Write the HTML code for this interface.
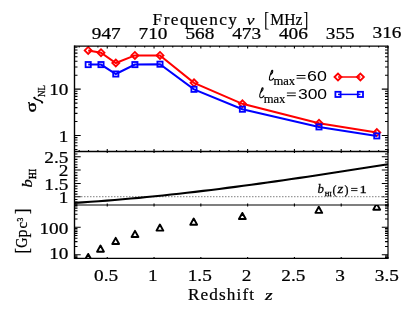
<!DOCTYPE html>
<html><head><meta charset="utf-8"><style>
html,body{margin:0;padding:0;background:#fff;}
svg{display:block;will-change:transform;}
.s{font-family:"Liberation Serif",serif;}
.a{font-family:"Liberation Sans",sans-serif;}
</style></head><body>
<svg xmlns="http://www.w3.org/2000/svg" width="415" height="317" viewBox="0 0 415 317">
<rect width="415" height="317" fill="#fff"/>
<path d="M107.25,46.0v2.6M107.25,151.5v-2.6M107.25,151.5v1.5M107.25,205.0v-1.5M107.25,205.0v1.5M107.25,258.4v-1.5M154.04,46.0v2.6M154.04,151.5v-2.6M154.04,151.5v1.5M154.04,205.0v-1.5M154.04,205.0v1.5M154.04,258.4v-1.5M200.84,46.0v2.6M200.84,151.5v-2.6M200.84,151.5v1.5M200.84,205.0v-1.5M200.84,205.0v1.5M200.84,258.4v-1.5M247.63,46.0v2.6M247.63,151.5v-2.6M247.63,151.5v1.5M247.63,205.0v-1.5M247.63,205.0v1.5M247.63,258.4v-1.5M294.42,46.0v2.6M294.42,151.5v-2.6M294.42,151.5v1.5M294.42,205.0v-1.5M294.42,205.0v1.5M294.42,258.4v-1.5M341.21,46.0v2.6M341.21,151.5v-2.6M341.21,151.5v1.5M341.21,205.0v-1.5M341.21,205.0v1.5M341.21,258.4v-1.5M388,46.0v2.6M388,151.5v-2.6M388,151.5v1.5M388,205.0v-1.5M388,205.0v1.5M388,258.4v-1.5M79.18,46.0v1.4M79.18,151.5v-1.4M88.54,46.0v1.4M88.54,151.5v-1.4M97.9,46.0v1.4M97.9,151.5v-1.4M116.61,46.0v1.4M116.61,151.5v-1.4M125.97,46.0v1.4M125.97,151.5v-1.4M135.33,46.0v1.4M135.33,151.5v-1.4M144.69,46.0v1.4M144.69,151.5v-1.4M163.4,46.0v1.4M163.4,151.5v-1.4M172.76,46.0v1.4M172.76,151.5v-1.4M182.12,46.0v1.4M182.12,151.5v-1.4M191.48,46.0v1.4M191.48,151.5v-1.4M210.19,46.0v1.4M210.19,151.5v-1.4M219.55,46.0v1.4M219.55,151.5v-1.4M228.91,46.0v1.4M228.91,151.5v-1.4M238.27,46.0v1.4M238.27,151.5v-1.4M256.99,46.0v1.4M256.99,151.5v-1.4M266.34,46.0v1.4M266.34,151.5v-1.4M275.7,46.0v1.4M275.7,151.5v-1.4M285.06,46.0v1.4M285.06,151.5v-1.4M303.78,46.0v1.4M303.78,151.5v-1.4M313.13,46.0v1.4M313.13,151.5v-1.4M322.49,46.0v1.4M322.49,151.5v-1.4M331.85,46.0v1.4M331.85,151.5v-1.4M350.57,46.0v1.4M350.57,151.5v-1.4M359.93,46.0v1.4M359.93,151.5v-1.4M369.28,46.0v1.4M369.28,151.5v-1.4M378.64,46.0v1.4M378.64,151.5v-1.4" stroke="#000" stroke-width="1.1" fill="none"/>
<path d="M74.5,135.5h6.2M388.0,135.5h-6.2M74.5,89.15h6.2M388.0,89.15h-6.2M74.5,149.45h3.0M388.0,149.45h-3.0M74.5,145.78h3.0M388.0,145.78h-3.0M74.5,142.68h3.0M388.0,142.68h-3.0M74.5,139.99h3.0M388.0,139.99h-3.0M74.5,137.62h3.0M388.0,137.62h-3.0M74.5,121.55h3.0M388.0,121.55h-3.0M74.5,113.39h3.0M388.0,113.39h-3.0M74.5,107.59h3.0M388.0,107.59h-3.0M74.5,103.1h3.0M388.0,103.1h-3.0M74.5,99.43h3.0M388.0,99.43h-3.0M74.5,96.33h3.0M388.0,96.33h-3.0M74.5,93.64h3.0M388.0,93.64h-3.0M74.5,91.27h3.0M388.0,91.27h-3.0M74.5,75.2h3.0M388.0,75.2h-3.0M74.5,67.04h3.0M388.0,67.04h-3.0M74.5,61.24h3.0M388.0,61.24h-3.0M74.5,56.75h3.0M388.0,56.75h-3.0M74.5,53.08h3.0M388.0,53.08h-3.0M74.5,49.98h3.0M388.0,49.98h-3.0M74.5,47.29h3.0M388.0,47.29h-3.0M74.5,196.8h6.2M388.0,196.8h-6.2M74.5,183.43h6.2M388.0,183.43h-6.2M74.5,170.05h6.2M388.0,170.05h-6.2M74.5,156.68h6.2M388.0,156.68h-6.2M74.5,204.83h3.0M388.0,204.83h-3.0M74.5,202.15h3.0M388.0,202.15h-3.0M74.5,199.48h3.0M388.0,199.48h-3.0M74.5,194.12h3.0M388.0,194.12h-3.0M74.5,191.45h3.0M388.0,191.45h-3.0M74.5,188.78h3.0M388.0,188.78h-3.0M74.5,186.1h3.0M388.0,186.1h-3.0M74.5,180.75h3.0M388.0,180.75h-3.0M74.5,178.08h3.0M388.0,178.08h-3.0M74.5,175.4h3.0M388.0,175.4h-3.0M74.5,172.73h3.0M388.0,172.73h-3.0M74.5,167.38h3.0M388.0,167.38h-3.0M74.5,164.7h3.0M388.0,164.7h-3.0M74.5,162.03h3.0M388.0,162.03h-3.0M74.5,159.35h3.0M388.0,159.35h-3.0M74.5,154h3.0M388.0,154h-3.0M74.5,254.7h6.2M388.0,254.7h-6.2M74.5,227.3h6.2M388.0,227.3h-6.2M74.5,257.36h3.0M388.0,257.36h-3.0M74.5,255.95h3.0M388.0,255.95h-3.0M74.5,246.45h3.0M388.0,246.45h-3.0M74.5,241.63h3.0M388.0,241.63h-3.0M74.5,238.2h3.0M388.0,238.2h-3.0M74.5,235.55h3.0M388.0,235.55h-3.0M74.5,233.38h3.0M388.0,233.38h-3.0M74.5,231.54h3.0M388.0,231.54h-3.0M74.5,229.96h3.0M388.0,229.96h-3.0M74.5,228.55h3.0M388.0,228.55h-3.0M74.5,219.05h3.0M388.0,219.05h-3.0M74.5,214.23h3.0M388.0,214.23h-3.0M74.5,210.8h3.0M388.0,210.8h-3.0M74.5,208.15h3.0M388.0,208.15h-3.0M74.5,205.98h3.0M388.0,205.98h-3.0" stroke="#000" stroke-width="1.1" fill="none"/>
<line x1="81.0" y1="196.6" x2="387.0" y2="196.6" stroke="#999999" stroke-width="1.1" stroke-dasharray="1.5 1.5"/>
<path d="M74.5,202.83 L82.5,202.33 L90.6,201.78 L98.6,201.21 L106.7,200.60 L114.7,199.95 L122.7,199.28 L130.8,198.57 L138.8,197.83 L146.8,197.06 L154.9,196.26 L162.9,195.44 L171.0,194.58 L179.0,193.70 L187.0,192.80 L195.1,191.86 L203.1,190.91 L211.2,189.93 L219.2,188.93 L227.2,187.91 L235.3,186.87 L243.3,185.80 L251.3,184.72 L259.4,183.62 L267.4,182.51 L275.5,181.37 L283.5,180.22 L291.5,179.06 L299.6,177.88 L307.6,176.70 L315.7,175.49 L323.7,174.28 L331.7,173.06 L339.8,171.83 L347.8,170.58 L355.8,169.33 L363.9,168.08 L371.9,166.82 L380.0,165.55 L388.0,164.28" fill="none" stroke="#000" stroke-width="2.1" stroke-linejoin="round"/>
<defs><clipPath id="cb"><rect x="74.5" y="205.0" width="313.5" height="53.39999999999998"/></clipPath></defs>
<path d="M88.2,50.4 L101,52.7 L115.8,63 L134.9,55.4 L160,55.4 L194,82.8 L242.4,103.8 L319,123.3 L376.8,132.6" fill="none" stroke="#ff0000" stroke-width="2"/>
<path d="M84.7,50.4L88.2,46.9L91.7,50.4L88.2,53.9Z" fill="none" stroke="#ff0000" stroke-width="1.8"/>
<path d="M97.5,52.7L101,49.2L104.5,52.7L101,56.2Z" fill="none" stroke="#ff0000" stroke-width="1.8"/>
<path d="M112.3,63L115.8,59.5L119.3,63L115.8,66.5Z" fill="none" stroke="#ff0000" stroke-width="1.8"/>
<path d="M131.4,55.4L134.9,51.9L138.4,55.4L134.9,58.9Z" fill="none" stroke="#ff0000" stroke-width="1.8"/>
<path d="M156.5,55.4L160,51.9L163.5,55.4L160,58.9Z" fill="none" stroke="#ff0000" stroke-width="1.8"/>
<path d="M190.5,82.8L194,79.3L197.5,82.8L194,86.3Z" fill="none" stroke="#ff0000" stroke-width="1.8"/>
<path d="M238.9,103.8L242.4,100.3L245.9,103.8L242.4,107.3Z" fill="none" stroke="#ff0000" stroke-width="1.8"/>
<path d="M315.5,123.3L319,119.8L322.5,123.3L319,126.8Z" fill="none" stroke="#ff0000" stroke-width="1.8"/>
<path d="M373.3,132.6L376.8,129.1L380.3,132.6L376.8,136.1Z" fill="none" stroke="#ff0000" stroke-width="1.8"/>
<path d="M88.2,64.6 L101,64.6 L115.8,74 L134.9,64.6 L160,64.2 L194,89.3 L242.4,109.2 L319,126.9 L376.8,135.9" fill="none" stroke="#0000ff" stroke-width="2"/>
<rect x="85.6" y="62" width="5.2" height="5.2" fill="none" stroke="#0000ff" stroke-width="1.8"/>
<rect x="98.4" y="62" width="5.2" height="5.2" fill="none" stroke="#0000ff" stroke-width="1.8"/>
<rect x="113.2" y="71.4" width="5.2" height="5.2" fill="none" stroke="#0000ff" stroke-width="1.8"/>
<rect x="132.3" y="62" width="5.2" height="5.2" fill="none" stroke="#0000ff" stroke-width="1.8"/>
<rect x="157.4" y="61.6" width="5.2" height="5.2" fill="none" stroke="#0000ff" stroke-width="1.8"/>
<rect x="191.4" y="86.7" width="5.2" height="5.2" fill="none" stroke="#0000ff" stroke-width="1.8"/>
<rect x="239.8" y="106.6" width="5.2" height="5.2" fill="none" stroke="#0000ff" stroke-width="1.8"/>
<rect x="316.4" y="124.3" width="5.2" height="5.2" fill="none" stroke="#0000ff" stroke-width="1.8"/>
<rect x="374.2" y="133.3" width="5.2" height="5.2" fill="none" stroke="#0000ff" stroke-width="1.8"/>
<g clip-path="url(#cb)">
<path d="M84.8,260.05L88.2,253.95L91.6,260.05Z" fill="none" stroke="#000" stroke-width="1.95" stroke-linejoin="round"/>
<path d="M97.1,251.65L100.5,245.55L103.9,251.65Z" fill="none" stroke="#000" stroke-width="1.95" stroke-linejoin="round"/>
<path d="M112.3,243.95L115.7,237.85L119.1,243.95Z" fill="none" stroke="#000" stroke-width="1.95" stroke-linejoin="round"/>
<path d="M131.6,236.95L135.0,230.85L138.4,236.95Z" fill="none" stroke="#000" stroke-width="1.95" stroke-linejoin="round"/>
<path d="M156.5,230.6L159.9,224.5L163.3,230.6Z" fill="none" stroke="#000" stroke-width="1.95" stroke-linejoin="round"/>
<path d="M190.3,224.65L193.7,218.55L197.1,224.65Z" fill="none" stroke="#000" stroke-width="1.95" stroke-linejoin="round"/>
<path d="M238.95,219.05L242.35,212.95L245.75,219.05Z" fill="none" stroke="#000" stroke-width="1.95" stroke-linejoin="round"/>
<path d="M315.4,212.85L318.8,206.75L322.2,212.85Z" fill="none" stroke="#000" stroke-width="1.95" stroke-linejoin="round"/>
<path d="M373.3,209.65L376.7,203.55L380.1,209.65Z" fill="none" stroke="#000" stroke-width="1.95" stroke-linejoin="round"/>
</g>
<line x1="74.5" y1="46" x2="388" y2="46" stroke="#000" stroke-width="1.25"/>
<line x1="74.5" y1="45.4" x2="74.5" y2="259" stroke="#000" stroke-width="1.4"/>
<line x1="388" y1="45.4" x2="388" y2="259" stroke="#000" stroke-width="1.2"/>
<line x1="74.5" y1="151.5" x2="388" y2="151.5" stroke="#000" stroke-width="1.5"/>
<line x1="74.5" y1="205" x2="388" y2="205" stroke="#000" stroke-width="1.15"/>
<line x1="74.5" y1="258.4" x2="388" y2="258.4" stroke="#000" stroke-width="1.25"/>
<line x1="338" y1="77" x2="360.4" y2="77" stroke="#ff0000" stroke-width="1.5"/>
<path d="M334.5,77L338,73.5L341.5,77L338,80.5Z" fill="none" stroke="#ff0000" stroke-width="1.8"/>
<path d="M356.9,77L360.4,73.5L363.9,77L360.4,80.5Z" fill="none" stroke="#ff0000" stroke-width="1.8"/>
<line x1="338" y1="94.4" x2="360.4" y2="94.4" stroke="#0000ff" stroke-width="1.5"/>
<rect x="335.4" y="91.8" width="5.2" height="5.2" fill="none" stroke="#0000ff" stroke-width="1.8"/>
<rect x="357.8" y="91.8" width="5.2" height="5.2" fill="none" stroke="#0000ff" stroke-width="1.8"/>
<g transform="translate(106.25,38.7) scale(1.19,1)"><text class="s" font-size="16.2" text-anchor="middle" stroke="#000" stroke-width="0.22">947</text></g>
<g transform="translate(153.04,38.5) scale(1.19,1)"><text class="s" font-size="16.2" text-anchor="middle" stroke="#000" stroke-width="0.22">710</text></g>
<g transform="translate(199.84,38.7) scale(1.19,1)"><text class="s" font-size="16.2" text-anchor="middle" stroke="#000" stroke-width="0.22">568</text></g>
<g transform="translate(246.63,38.7) scale(1.19,1)"><text class="s" font-size="16.2" text-anchor="middle" stroke="#000" stroke-width="0.22">473</text></g>
<g transform="translate(293.42,38.7) scale(1.19,1)"><text class="s" font-size="16.2" text-anchor="middle" stroke="#000" stroke-width="0.22">406</text></g>
<g transform="translate(340.21,38.7) scale(1.19,1)"><text class="s" font-size="16.2" text-anchor="middle" stroke="#000" stroke-width="0.22">355</text></g>
<g transform="translate(387,38.4) scale(1.19,1)"><text class="s" font-size="16.2" text-anchor="middle" stroke="#000" stroke-width="0.22">316</text></g>
<g transform="translate(152.6,24.6) scale(1.05,1)"><text class="s" font-size="16.4" letter-spacing="1.4" stroke="#000" stroke-width="0.22">Frequency</text></g>
<g transform="translate(246.4,24.6) scale(1.15,1)"><text class="s" font-size="15.6" stroke="#000" stroke-width="0.22"><tspan font-style="italic">ν</tspan></text></g>
<g transform="translate(264.1,25.5) scale(1,1.29)"><text class="s" font-size="15.6">[</text></g>
<g transform="translate(308.5,25.5) scale(1,1.29)"><text class="s" font-size="15.6" text-anchor="end">]</text></g>
<g transform="translate(270.3,24.6) scale(0.95,1)"><text class="s" font-size="16.4" stroke="#000" stroke-width="0.22">MHz</text></g>
<g transform="translate(106.15,280.75) scale(1.19,1)"><text class="s" font-size="16.2" text-anchor="middle" stroke="#000" stroke-width="0.22">0.5</text></g>
<g transform="translate(152.94,280.75) scale(1.19,1)"><text class="s" font-size="16.2" text-anchor="middle" stroke="#000" stroke-width="0.22">1</text></g>
<g transform="translate(199.74,280.75) scale(1.19,1)"><text class="s" font-size="16.2" text-anchor="middle" stroke="#000" stroke-width="0.22">1.5</text></g>
<g transform="translate(246.53,280.75) scale(1.19,1)"><text class="s" font-size="16.2" text-anchor="middle" stroke="#000" stroke-width="0.22">2</text></g>
<g transform="translate(293.32,280.75) scale(1.19,1)"><text class="s" font-size="16.2" text-anchor="middle" stroke="#000" stroke-width="0.22">2.5</text></g>
<g transform="translate(340.11,280.75) scale(1.19,1)"><text class="s" font-size="16.2" text-anchor="middle" stroke="#000" stroke-width="0.22">3</text></g>
<g transform="translate(386.9,280.75) scale(1.19,1)"><text class="s" font-size="16.2" text-anchor="middle" stroke="#000" stroke-width="0.22">3.5</text></g>
<g transform="translate(188,299.5) scale(1.05,1)"><text class="s" font-size="16.4" letter-spacing="1.05" stroke="#000" stroke-width="0.22">Redshift</text></g>
<g transform="translate(264.9,299.7) scale(1.25,1)"><text class="s" font-size="15.6" stroke="#000" stroke-width="0.22"><tspan font-style="italic">z</tspan></text></g>
<g transform="translate(68.4,94.95) scale(1.19,1)"><text class="s" font-size="16.2" text-anchor="end" stroke="#000" stroke-width="0.22">10</text></g>
<g transform="translate(68.4,141.9) scale(1.19,1)"><text class="s" font-size="16.2" text-anchor="end" stroke="#000" stroke-width="0.22">1</text></g>
<g transform="translate(68.4,162.55) scale(1.19,1)"><text class="s" font-size="16.2" text-anchor="end" stroke="#000" stroke-width="0.22">2.5</text></g>
<g transform="translate(68.4,175.9) scale(1.19,1)"><text class="s" font-size="16.2" text-anchor="end" stroke="#000" stroke-width="0.22">2</text></g>
<g transform="translate(68.4,189.65) scale(1.19,1)"><text class="s" font-size="16.2" text-anchor="end" stroke="#000" stroke-width="0.22">1.5</text></g>
<g transform="translate(68.4,203.45) scale(1.19,1)"><text class="s" font-size="16.2" text-anchor="end" stroke="#000" stroke-width="0.22">1</text></g>
<g transform="translate(68.4,233.8) scale(1.19,1)"><text class="s" font-size="16.2" text-anchor="end" stroke="#000" stroke-width="0.22">100</text></g>
<g transform="translate(68.4,258.9) scale(1.19,1)"><text class="s" font-size="16.2" text-anchor="end" stroke="#000" stroke-width="0.22">10</text></g>
<g transform="translate(0,0)">
<path d="M273.6,78.4 C272.8,79.6 271.3,80.5 270.3,80.2 C269.3,79.8 269.2,78.5 269.5,77.3 C270.0,75.3 271.0,72.8 271.6,71.0 C271.9,70.2 272.6,70.0 272.8,70.8 C273.0,71.8 272.2,73.4 270.8,74.6" fill="none" stroke="#000" stroke-width="1.1" stroke-linecap="round"/>
<g transform="translate(273.4,85.0) scale(0.97,1)"><text class="s" font-size="13" stroke="#000" stroke-width="0.2">max</text></g>
<path d="M296.6,75.5h8.9M296.6,78.2h8.9" stroke="#000" stroke-width="0.95"/>
<g transform="translate(307.1,81.1) scale(1.22,1)"><text class="a" font-size="14.6">60</text></g>
</g>
<g transform="translate(-9.7,17.5)">
<path d="M273.6,78.4 C272.8,79.6 271.3,80.5 270.3,80.2 C269.3,79.8 269.2,78.5 269.5,77.3 C270.0,75.3 271.0,72.8 271.6,71.0 C271.9,70.2 272.6,70.0 272.8,70.8 C273.0,71.8 272.2,73.4 270.8,74.6" fill="none" stroke="#000" stroke-width="1.1" stroke-linecap="round"/>
<g transform="translate(273.4,85.0) scale(0.97,1)"><text class="s" font-size="13" stroke="#000" stroke-width="0.2">max</text></g>
<path d="M296.6,75.5h8.9M296.6,78.2h8.9" stroke="#000" stroke-width="0.95"/>
<g transform="translate(307.6,81.1) scale(1.2,1)"><text class="a" font-size="14.6">300</text></g>
</g>
<g transform="translate(317.6,192.9) scale(1.05,1)"><text class="s" font-size="12.3" font-style="italic" stroke="#000" stroke-width="0.25">b</text></g>
<g transform="translate(324.8,195.7)"><text class="s" font-size="6.5" stroke="#000" stroke-width="0.35">HI</text></g>
<g transform="translate(332.6,194)"><text stroke="#000" stroke-width="0.25" class="s" font-size="12">(</text></g>
<g transform="translate(337.6,192.9) scale(1.3,1)"><text stroke="#000" stroke-width="0.25" class="s" font-size="11.5" font-style="italic">z</text></g>
<g transform="translate(344.5,194)"><text stroke="#000" stroke-width="0.25" class="s" font-size="12">)</text></g>
<path d="M351.1,188.4h6.4M351.1,190.6h6.4" stroke="#000" stroke-width="0.9"/>
<g transform="translate(359.6,193.1) scale(1.3,1)"><text stroke="#000" stroke-width="0.25" class="s" font-size="11.2">1</text></g>
<g transform="translate(36.4,112.5) rotate(-90) scale(1.35,1)"><text stroke="#000" stroke-width="0.45" class="s" font-size="14.4">σ</text></g>
<path d="M34.3,97.6 C34.8,99.2 36.2,99.6 38.2,100.1 C40.2,100.6 41.9,101.0 42.3,102.6" fill="none" stroke="#000" stroke-width="1.5" stroke-linecap="round"/><circle cx="34.4" cy="97.7" r="1.05"/><circle cx="42.2" cy="102.5" r="1.05"/>
<g transform="translate(44.6,112.5) rotate(-90) scale(0.8,1)"><text class="s" font-size="11.2" x="19.4" stroke="#000" stroke-width="0.3">NL</text></g>
<g transform="translate(32.2,187.5) rotate(-90) scale(1.08,1)"><text class="s" font-size="15.4" font-style="italic" stroke="#000" stroke-width="0.25">b</text></g>
<g transform="translate(35.5,187.2) rotate(-90) scale(0.9,1)"><text class="s" font-size="10.5" x="9.2" stroke="#000" stroke-width="0.45">HI</text></g>
<g transform="translate(27,252.2) rotate(-90) scale(1,1.22)"><text stroke="#000" stroke-width="0.25" class="s" font-size="16" x="-1.4" y="0.5">[</text></g>
<g transform="translate(26.9,252.2) rotate(-90) scale(0.88,1)"><text stroke="#000" stroke-width="0.25" class="s" font-size="16" x="5.2">G</text></g>
<g transform="translate(27.1,252.2) rotate(-90)"><text stroke="#000" stroke-width="0.25" class="s" font-size="16" x="14.8" y="-0.2">p</text></g>
<g transform="translate(26.9,252.2) rotate(-90)"><text stroke="#000" stroke-width="0.25" class="s" font-size="15" x="23.6">c</text></g>
<g transform="translate(27.3,252.2) rotate(-90)"><text class="s" font-size="7.6" x="30.6" y="-4.0" stroke="#000" stroke-width="0.3">3</text></g>
<g transform="translate(27,252.2) rotate(-90) scale(1,1.22)"><text stroke="#000" stroke-width="0.25" class="s" font-size="16" x="38.2" y="0.5">]</text></g>
</svg></body></html>
